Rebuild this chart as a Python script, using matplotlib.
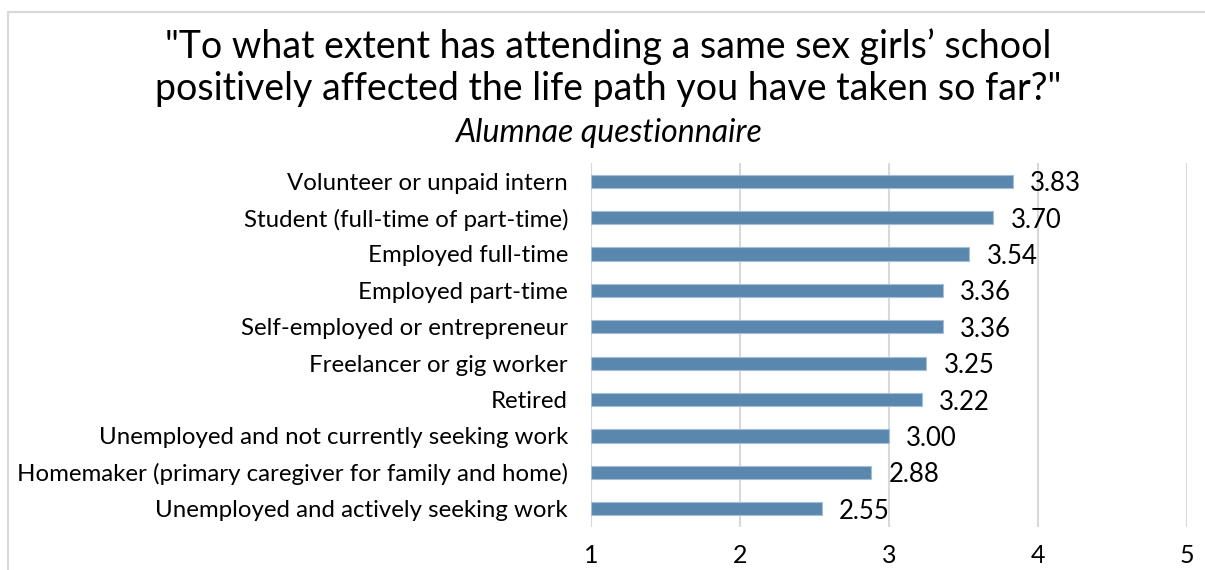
import matplotlib as mpl
mpl.use('Agg')
import matplotlib.pyplot as plt
from matplotlib.patches import Rectangle

plt.rcParams['font.family'] = ['Lato', 'DejaVu Sans']

categories = ['Volunteer or unpaid intern',
              'Student (full-time of part-time)',
              'Employed full-time',
              'Employed part-time',
              'Self-employed or entrepreneur',
              'Freelancer or gig worker',
              'Retired',
              'Unemployed and not currently seeking work',
              'Homemaker (primary caregiver for family and home)',
              'Unemployed and actively seeking work']
scores = [3.83, 3.70, 3.54, 3.36, 3.36, 3.25, 3.22, 3.00, 2.88, 2.55]
xticks = [1, 2, 3, 4, 5]

fig = plt.figure(figsize=(12.05, 5.7), dpi=100)
# outer chart border (light gray), runs off the right/bottom edges
fig.patches.append(Rectangle((8 / 1205, -0.1), 1.2, 1 - 12 / 570 + 0.1,
                             transform=fig.transFigure, fill=False,
                             edgecolor='#D9D9D9', linewidth=1.5))

ax = fig.add_axes([591 / 1205, 43 / 570, (1187 - 591) / 1205, (527 - 163) / 570])
ypos = range(len(categories))
ax.barh(ypos, [s - 1 for s in scores], left=1, height=0.36,
        color='#5A87AE', edgecolor='#A3BED6', linewidth=0.8, zorder=3)
for y, s in zip(ypos, scores):
    ax.text(s + 0.115, y + 0.07, '%.2f' % s, va='center', ha='left', fontsize=18.5)

ax.set_xlim(1, 5)
ax.set_ylim(len(categories) - 0.5, -0.5)
ax.set_xticks(xticks)
ax.set_xticklabels([str(t) for t in xticks], fontsize=18)
ax.set_yticks(list(ypos))
ax.set_yticklabels(categories, fontsize=17.3)
ax.tick_params(length=0, pad=16.5, axis='y')
ax.tick_params(length=0, pad=12, axis='x')
for s in ax.spines.values():
    s.set_visible(False)
ax.grid(True, axis='x', color='#D9D9D9', linewidth=1.5, zorder=0)
ax.axvline(1, color='#D9D9D9', linewidth=1.5, zorder=1)
ax.set_axisbelow(True)

fig.text(0.505, 1 - 67.5 / 570, '"To what extent has attending a same sex girls\u2019 school\n'
         'positively affected the life path you have taken so far?"',
         ha='center', va='center', fontsize=27, linespacing=1.22)
fig.text(0.505, 1 - 133 / 570, 'Alumnae questionnaire', ha='center', va='center',
         fontsize=23, style='italic')

plt.savefig('out.png', dpi=100)
